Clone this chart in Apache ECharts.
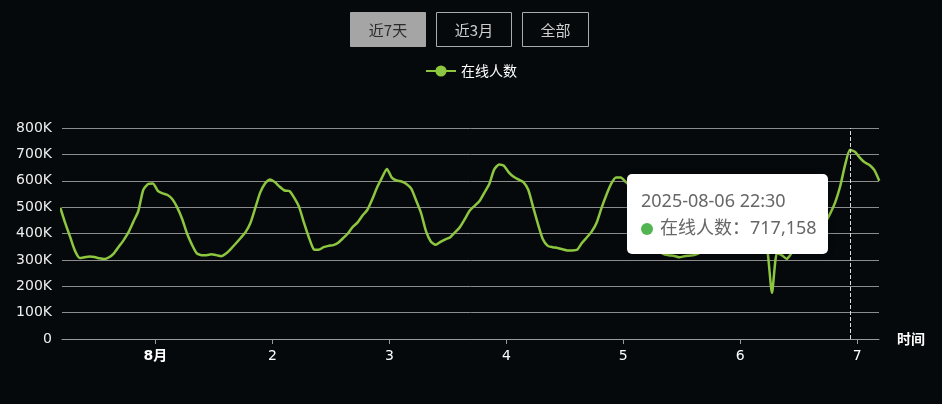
<!DOCTYPE html>
<html><head><meta charset="utf-8">
<script src="https://cdn.jsdelivr.net/npm/echarts@6/dist/echarts.min.js"></script>
<style>html,body{margin:0;padding:0;background:#05090c;}#c{width:942px;height:404px;}</style>
</head><body><div id="c"></div>
<script>
// ---- data (hourly samples at hh:30) ----
const seriesName = '在线人数';
const yTickLabels = ['0','100K','200K','300K','400K','500K','600K','700K','800K'];
const rangeButtons = ['近7天','近3月','全部'];
// 2025-07-31, 04:30 .. 23:30
const jul31 = [498000,440000,388000,335000,307000,310000,313000,311000,306000,303000,310000,325000,350000,375000,405000,445000,485000,564000,588000,590000];
// 2025-08-01, 00:30 .. 23:30
const aug01 = [562000,552000,546000,530000,498000,455000,400000,358000,325000,318000,318000,321000,318000,314000,324000,342000,362000,383000,405000,440000,497000,555000,590000,605000];
const aug02 = [595000,577000,563000,561000,535000,500000,440000,385000,340000,338000,348000,353000,356000,365000,382000,400000,425000,442000,468000,490000,530000,575000,612000,645000];
const aug03 = [612000,601000,597000,588000,570000,525000,478000,410000,370000,357000,368000,378000,386000,405000,425000,455000,487000,505000,523000,555000,588000,642000,662000,657000];
const aug04 = [632000,615000,605000,595000,566000,500000,435000,378000,353000,348000,345000,340000,336000,336000,338000,364000,385000,407000,440000,495000,545000,588000,612000,612000];
const aug05 = [595000,580000,560000,520000,460000,400000,355000,330000,320000,317000,315000,310000,314000,316000,318000,325000,345000,375000,410000,455000,510000,560000,595000,605000];
const aug06 = [595000,570000,520000,450000,385000,345000,175000,325000,318000,304000,325000,345000,365000,380000,395000,410000,428000,445000,478000,520000,580000,660000,717158,710000];
// 2025-08-07, 00:30 .. 04:30
const aug07 = [688000,670000,660000,640000,600000];

const dayBlocks = [
  {y:2025,m:6,d:31,h0:4,vals:jul31},
  {y:2025,m:7,d:1,h0:0,vals:aug01},
  {y:2025,m:7,d:2,h0:0,vals:aug02},
  {y:2025,m:7,d:3,h0:0,vals:aug03},
  {y:2025,m:7,d:4,h0:0,vals:aug04},
  {y:2025,m:7,d:5,h0:0,vals:aug05},
  {y:2025,m:7,d:6,h0:0,vals:aug06},
  {y:2025,m:7,d:7,h0:0,vals:aug07}
];
const seriesData = [];
dayBlocks.forEach(b => b.vals.forEach((v,i) => seriesData.push([new Date(b.y,b.m,b.d,b.h0+i,30).getTime(), v])));
const tipIndex = seriesData.findIndex(p => p[0] === new Date(2025,7,6,22,30).getTime());

const pad = n => (n<10?'0':'')+n;
const fmtTime = t => { const d=new Date(t); return d.getFullYear()+'-'+pad(d.getMonth()+1)+'-'+pad(d.getDate())+' '+pad(d.getHours())+':'+pad(d.getMinutes()); };

const latin = '"DejaVu Sans", "Noto Sans CJK SC", sans-serif';
const cjk = '"Noto Sans CJK SC", "Noto Sans", sans-serif';
const lineColor = '#8dc63f';

const btnX = [350.5, 436.5, 522.5], btnW = [75, 75, 66];
const graphic = [];
rangeButtons.forEach((t,i) => {
  graphic.push({type:'rect', silent:true, shape:{x:btnX[i], y:12.5, width:btnW[i], height:34},
    style:{fill: i===0 ? '#a5a5a5' : 'transparent', stroke: i===0 ? '#a5a5a5' : '#ababab', lineWidth:1}});
  graphic.push({type:'text', silent:true, x:btnX[i]+btnW[i]/2, y:30,
    style:{text:t, fill: i===0 ? '#2a2a2a' : '#cfcfcf', fontSize:15, fontFamily:cjk, align:'center', verticalAlign:'middle'}});
});

const chart = echarts.init(document.getElementById('c'), null, {renderer:'canvas'});
chart.setOption({
  backgroundColor:'#05090c',
  animation:false,
  graphic: graphic,
  legend:{data:[seriesName], top:59, left:'center', itemWidth:30, itemHeight:14, itemGap:10,
    textStyle:{color:'#ffffff', fontSize:14, fontFamily:cjk}},
  grid:{left:62, right:63, top:128, bottom:65},
  tooltip:{
    trigger:'axis', alwaysShowContent:true,
    position:function(){ return [627, 174]; },
    backgroundColor:'#ffffff', borderColor:'#ffffff', borderWidth:0, padding:[13,11,13,14],
    extraCssText:'border-radius:5px;box-shadow:0 0 6px rgba(0,0,0,0.3);',
    axisPointer:{type:'line', triggerEmphasis:false, lineStyle:{color:'#dddddd', type:'dashed', width:1}},
    formatter:function(params){
      const p = params[0];
      return '<div style="font-family:\'Noto Sans\',\'Noto Sans CJK SC\',sans-serif;font-size:18px;line-height:27px;color:#666;">'
        + fmtTime(p.value[0]) + '<br/>'
        + '<span style="display:inline-block;width:12px;height:12px;border-radius:6px;background:#52b552;margin-right:7px;vertical-align:-1px;"></span>'
        + p.seriesName + '：' + p.value[1].toLocaleString('en-US') + '</div>';
    }
  },
  xAxis:{
    type:'time',
    min:new Date(2025,6,31,4,51).getTime(),
    max:new Date(2025,7,7,4,27).getTime(),
    splitNumber:7,
    name:'时间', nameGap:18,
    nameTextStyle:{color:'#ffffff', fontSize:14, fontWeight:'bold', fontFamily:cjk},
    axisLine:{lineStyle:{color:'#9a9a9a', width:1}},
    axisTick:{show:true, length:5, lineStyle:{color:'#9a9a9a'}},
    splitLine:{show:false},
    axisLabel:{color:'#ffffff', fontSize:14, fontFamily:latin, margin:10,
      formatter:function(v){ const d=new Date(v); return d.getDate()===1 ? '{b|'+(d.getMonth()+1)+'月}' : String(d.getDate()); },
      rich:{b:{fontWeight:'bold', color:'#ffffff', fontSize:14, fontFamily:latin}}}
  },
  yAxis:{
    type:'value', min:0, max:800000, interval:100000,
    axisLine:{show:false}, axisTick:{show:false},
    axisLabel:{color:'#eeeeee', fontSize:14, fontFamily:latin, margin:10,
      formatter:function(v){ return yTickLabels[Math.round(v/100000)]; }},
    splitLine:{lineStyle:{color:'#8c8c8c', width:1}}
  },
  series:[{
    name:seriesName, type:'line', data:seriesData,
    showSymbol:false, symbol:'none', smooth:0.2,
    lineStyle:{color:lineColor, width:2.5}, itemStyle:{color:lineColor},
    emphasis:{disabled:true}
  }]
});
chart.dispatchAction({type:'showTip', seriesIndex:0, dataIndex:tipIndex});
</script>
</body></html>
